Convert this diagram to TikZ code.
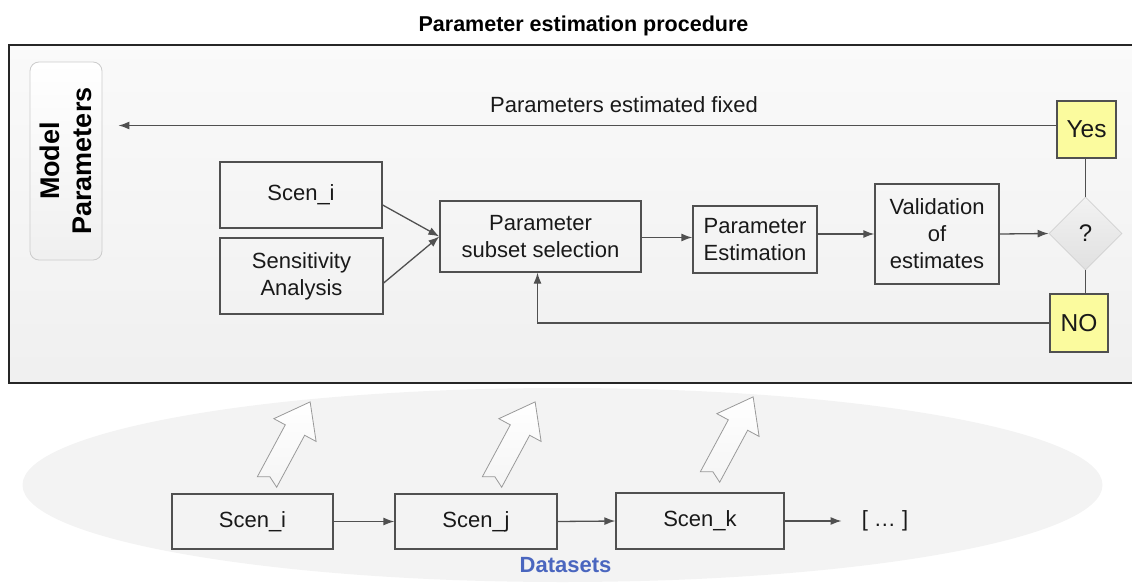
\documentclass[tikz,border=0pt]{standalone}
\usepackage{fontspec}
\setmainfont{Liberation Sans}
\usetikzlibrary{arrows.meta,shapes.geometric}
\definecolor{lc}{HTML}{505050}
\definecolor{yel}{HTML}{FBFB9E}
\definecolor{ell}{HTML}{F3F3F3}
\definecolor{dsblue}{HTML}{4A66BF}
\tikzset{
  txt/.style={font=\fontsize{22}{27}\selectfont, align=center, text=black!90},
  box/.style={txt, draw=lc, line width=1.3pt, inner sep=0pt},
  yesno/.style={box, fill=yel, font=\fontsize{24.5}{28}\selectfont},
  conn/.style={draw=lc, line width=1.3pt, -{Latex[length=11pt,width=8pt]}},
  plain/.style={draw=lc, line width=1.3pt},
  blockarrow/.style={draw=black!40, line width=0.8pt, top color=white, bottom color=black!4},
}
\begin{document}
\begin{tikzpicture}[x=1pt,y=-1pt]
\useasboundingbox (0,0) rectangle (1132,583);

% title
\node[anchor=base, font=\bfseries\fontsize{21.5}{26}\selectfont] (title) at (583.5,32) {Parameter estimation procedure};

% main procedure box
\node[draw=black!85, line width=2.4pt, top color=black!2, bottom color=black!6, minimum width=1131, minimum height=338, inner sep=0pt] (proc) at (574.5,214) {};

% model parameters
\node[draw=black!20, line width=0.8pt, rounded corners=9pt, top color=white, bottom color=black!6, minimum width=72, minimum height=198, inner sep=0pt] (mp) at (66,161) {};
\node[rotate=90, align=center, font=\bfseries\fontsize{27}{32}\selectfont] (mpt) at (mp.center) {Model\\Parameters};

% flow boxes
\node[box, minimum width=162, minimum height=66] (si) at (301,195) {Scen\_i};
\node[box, minimum width=163, minimum height=76] (sa) at (301.5,276) {Sensitivity\\Analysis};
\node[box, minimum width=201, minimum height=71] (ps) at (540.5,236.5) {Parameter\\subset selection};
\node[box, minimum width=124, minimum height=67] (pe) at (755,239.5) {Parameter\\Estimation};
\node[box, minimum width=124, minimum height=100] (va) at (937,234) {Validation\\of\\estimates};
\node[diamond, aspect=1, draw=black!18, line width=0.8pt, top color=black!5, bottom color=black!12, minimum width=73, minimum height=73, inner sep=0pt, txt, font=\fontsize{24}{28}\selectfont] (q) at (1085.5,233.5) {?};
\node[yesno, minimum width=59, minimum height=57] (yes) at (1086.5,129.5) {Yes};
\node[yesno, minimum width=58, minimum height=58] (no) at (1079,323) {NO};

% connectors
\draw[conn] ([yshift=-10pt]si.east) -- (ps.west);
\draw[conn] ([yshift=-7pt]sa.east) -- (ps.west);
\draw[conn] ([yshift=-1pt]ps.east) -- ([yshift=-1pt]pe.west |- ps.east);
\draw[conn] (pe.east |- va.west) -- (va.west);
\draw[conn] (va.east) -- (q.west);
\draw[plain] (q.north) -- (q.north |- yes.south);
\draw[plain] (q.south) -- (q.south |- no.north);
\draw[conn] (no.west) -- ([xshift=-3pt]ps.south |- no.west) -- ([xshift=-3pt]ps.south);
\coordinate (yw) at ([yshift=4pt]yes.west);
\draw[conn, shorten >=16pt] (yw) -- (mp.east |- yw);
\node[txt, anchor=base] (pef) at (624,113) {Parameters estimated fixed};

% datasets
\node[ellipse, fill=ell, minimum width=1080, minimum height=194, inner sep=0pt] (ds) at (562.5,485) {};

\foreach \ax/\ay in {267/482, 492/482, 710/477} {
  \begin{scope}[shift={(\ax,\ay)}, rotate=-28.3]
    \draw[blockarrow] (-11,0) -- (-11,-59) -- (-24,-59) -- (0,-91) -- (24,-59) -- (11,-59) -- (11,0) -- (0,-6) -- cycle;
  \end{scope}
}

\node[box, minimum width=161, minimum height=55] (b1) at (252.5,521.5) {Scen\_i};
\node[box, minimum width=162, minimum height=55] (b2) at (476,521.5) {Scen\_j};
\node[box, minimum width=168, minimum height=56] (b3) at (700,521) {Scen\_k};
\node[txt, inner sep=0pt] (dots) at (885,521) {[ … ]};
\draw[conn] (b1.east) -- (b2.west);
\draw[conn] (b2.east) -- (b3.west);
\draw[conn, shorten >=20pt] (b3.east) -- (dots.west);
\node[font=\bfseries\fontsize{22}{26}\selectfont, text=dsblue] (dsl) at (565.5,565) {Datasets};
\end{tikzpicture}
\end{document}
